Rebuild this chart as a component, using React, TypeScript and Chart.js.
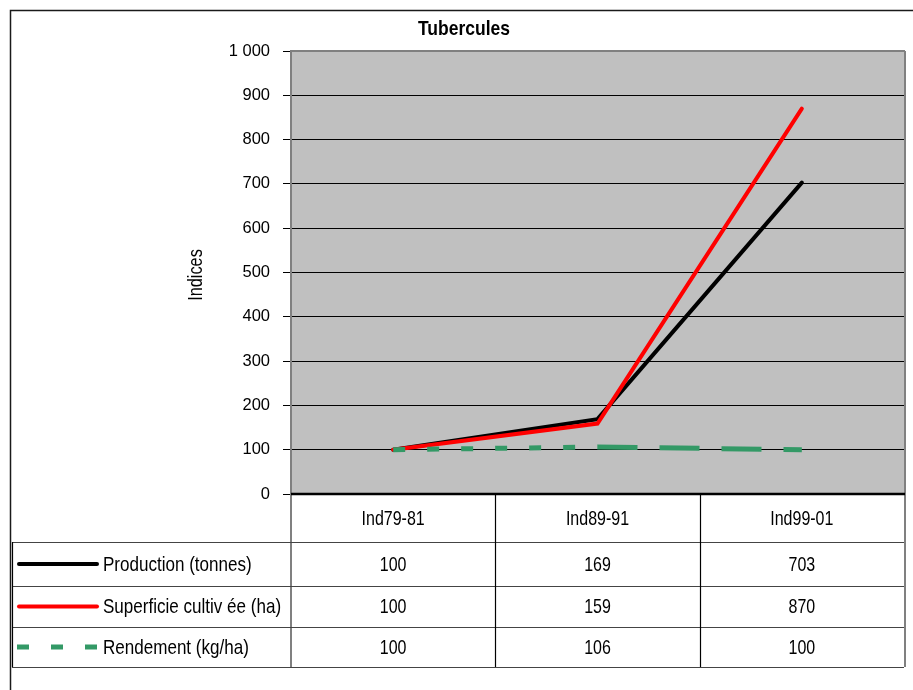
import React, { useEffect, useRef } from "react";
import { Chart, registerables } from "chart.js";

Chart.register(...registerables);

const TITLE = "Tubercules";
const Y_TITLE = "Indices";
const CATEGORIES = ["Ind79-81", "Ind89-91", "Ind99-01"];
const SERIES_NAMES = ["Production (tonnes)", "Superficie cultiv ée (ha)", "Rendement (kg/ha)"];
const PRODUCTION = [100, 169, 703];
const SUPERFICIE = [100, 159, 870];
const RENDEMENT = [100, 106, 100];
const Y_MIN = 0;
const Y_MAX = 1000;
const Y_STEP = 100;

const FONT = "'Liberation Sans', Arial, sans-serif";
const COLORS = ["#000000", "#FF0000", "#339966"];

function drawText(ctx: CanvasRenderingContext2D, text: string, x: number, y: number, font: string, align: CanvasTextAlign, sx: number, sy: number, rot = 0) {
  ctx.save();
  ctx.translate(x, y);
  if (rot) ctx.rotate(rot);
  ctx.scale(sx, sy);
  ctx.font = font;
  ctx.textAlign = align;
  ctx.textBaseline = "middle";
  ctx.fillStyle = "#000000";
  ctx.fillText(text, 0, 0);
  ctx.restore();
}

export default function App() {
  const ref = useRef<HTMLCanvasElement | null>(null);

  useEffect(() => {
    const canvas = ref.current;
    if (!canvas) return;
    const allSeries = [PRODUCTION, SUPERFICIE, RENDEMENT];

    const framePlugin = {
      id: "framePlugin",
      beforeDraw(chart: any) {
        const { ctx, chartArea } = chart;
        ctx.save();
        ctx.fillStyle = "#ffffff";
        ctx.fillRect(0, 0, chart.width, chart.height);
        ctx.fillStyle = "#C0C0C0";
        ctx.fillRect(chartArea.left, chartArea.top, chartArea.right - chartArea.left, chartArea.bottom - chartArea.top);
        ctx.strokeStyle = "#1a1a1a";
        ctx.lineWidth = 1.5;
        ctx.beginPath();
        ctx.moveTo(10.5, chart.height + 5);
        ctx.lineTo(10.5, 10.5);
        ctx.lineTo(chart.width + 5, 10.5);
        ctx.stroke();
        ctx.restore();
      },
      afterDraw(chart: any) {
        const { ctx, chartArea } = chart;
        const xs = chart.scales.x;
        const L = chartArea.left;
        const R = chartArea.right;
        const B = chartArea.bottom;
        const colW = (R - L) / CATEGORIES.length;
        const rowTops = [B, 542, 586, 627, 667];
        const tableLeft = 12;
        ctx.save();
        ctx.strokeStyle = "#808080";
        ctx.lineWidth = 2;
        ctx.beginPath();
        ctx.moveTo(R + 1, chartArea.top);
        ctx.lineTo(R + 1, rowTops[4]);
        ctx.moveTo(L, chartArea.top);
        ctx.lineTo(R + 1, chartArea.top);
        ctx.moveTo(L, B);
        ctx.lineTo(L, rowTops[4]);
        ctx.stroke();
        ctx.strokeStyle = "#444444";
        ctx.lineWidth = 1;
        for (let i = 1; i < rowTops.length; i++) {
          ctx.beginPath();
          ctx.moveTo(tableLeft, rowTops[i] + 0.5);
          ctx.lineTo(R, rowTops[i] + 0.5);
          ctx.stroke();
        }
        ctx.strokeStyle = "#000000";
        ctx.lineWidth = 1.2;
        ctx.beginPath();
        ctx.moveTo(tableLeft + 0.5, rowTops[1]);
        ctx.lineTo(tableLeft + 0.5, rowTops[4]);
        ctx.stroke();
        for (let c = 1; c < CATEGORIES.length; c++) {
          const x = Math.round(L + colW * c) + 0.5;
          ctx.beginPath();
          ctx.moveTo(x, B);
          ctx.lineTo(x, rowTops[4]);
          ctx.stroke();
        }
        ctx.strokeStyle = "#000000";
        ctx.lineWidth = 2.5;
        ctx.beginPath();
        ctx.moveTo(L, B);
        ctx.lineTo(R + 1, B);
        ctx.stroke();
        ctx.restore();

        const f16 = `16px ${FONT}`;
        CATEGORIES.forEach((cat, i) => {
          drawText(ctx, cat, xs.getPixelForValue(i), (rowTops[0] + rowTops[1]) / 2 + 1, f16, "center", 1, 1.3);
        });
        allSeries.forEach((vals, r) => {
          const cy = (rowTops[r + 1] + rowTops[r + 2]) / 2 + 1;
          vals.forEach((v, i) => {
            drawText(ctx, String(v), xs.getPixelForValue(i), cy, f16, "center", 1, 1.3);
          });
          drawText(ctx, SERIES_NAMES[r], 103, cy, f16, "left", 1.065, 1.3);
          ctx.save();
          ctx.strokeStyle = COLORS[r];
          if (r < 2) {
            ctx.lineWidth = 4;
            ctx.lineCap = "round";
            ctx.beginPath();
            ctx.moveTo(19, cy - 1);
            ctx.lineTo(97, cy - 1);
            ctx.stroke();
          } else {
            ctx.lineWidth = 5;
            ctx.lineCap = "butt";
            ctx.setLineDash([12, 22]);
            ctx.beginPath();
            ctx.moveTo(17, cy - 1);
            ctx.lineTo(98, cy - 1);
            ctx.stroke();
          }
          ctx.restore();
        });

        drawText(ctx, TITLE, 464, 30, `bold 17px ${FONT}`, "center", 1.03, 1.15);
        drawText(ctx, Y_TITLE, 196, 275, `16px ${FONT}`, "center", 1.02, 1.3, -Math.PI / 2);
      },
    };

    const chart = new Chart(canvas, {
      type: "line",
      data: {
        labels: CATEGORIES,
        datasets: [
          {
            label: SERIES_NAMES[0],
            data: PRODUCTION,
            borderColor: COLORS[0],
            borderWidth: 4,
            borderCapStyle: "round",
            borderJoinStyle: "miter",
            pointRadius: 0,
            tension: 0,
            order: 3,
          },
          {
            label: SERIES_NAMES[1],
            data: SUPERFICIE,
            borderColor: COLORS[1],
            borderWidth: 4,
            borderCapStyle: "round",
            borderJoinStyle: "miter",
            pointRadius: 0,
            tension: 0,
            order: 2,
          },
          {
            label: SERIES_NAMES[2],
            data: RENDEMENT,
            borderColor: COLORS[2],
            borderWidth: 5,
            borderCapStyle: "butt",
            pointRadius: 0,
            tension: 0,
            order: 1,
            segment: {
              borderDash: (c: any) => (c.p0DataIndex === 0 ? [12, 22] : [40, 22]),
            },
          },
        ],
      } as any,
      plugins: [framePlugin],
      options: {
        responsive: false,
        animation: false,
        events: [],
        layout: { padding: { top: 51, right: 9, bottom: 196, left: 0 } },
        plugins: {
          legend: { display: false },
          title: { display: false },
          tooltip: { enabled: false },
        },
        scales: {
          x: {
            type: "category",
            display: false,
            offset: true,
          },
          y: {
            min: Y_MIN,
            max: Y_MAX,
            afterFit: (s: any) => {
              s.width = 291;
            },
            ticks: {
              stepSize: Y_STEP,
              color: "#000000",
              padding: 13,
              font: { family: FONT, size: 16.5 },
              callback: (v: any) => {
                const n = Number(v);
                return n >= 1000 ? `${Math.floor(n / 1000)} ${String(n % 1000).padStart(3, "0")}` : String(n);
              },
            },
            grid: {
              color: (c: any) => (c.tick && c.tick.value === Y_MAX ? "#808080" : "#000000"),
              lineWidth: 1,
              tickLength: 8,
              tickColor: "#000000",
            },
            border: { display: true, color: "#808080", width: 2 },
          },
        },
      } as any,
    });
    return () => chart.destroy();
  }, []);

  return (
    <div style={{ position: "fixed", left: 0, top: 0, width: 913, height: 690, background: "#fff" }}>
      <canvas ref={ref} width={913} height={690} style={{ width: 913, height: 690, display: "block" }} />
    </div>
  );
}
